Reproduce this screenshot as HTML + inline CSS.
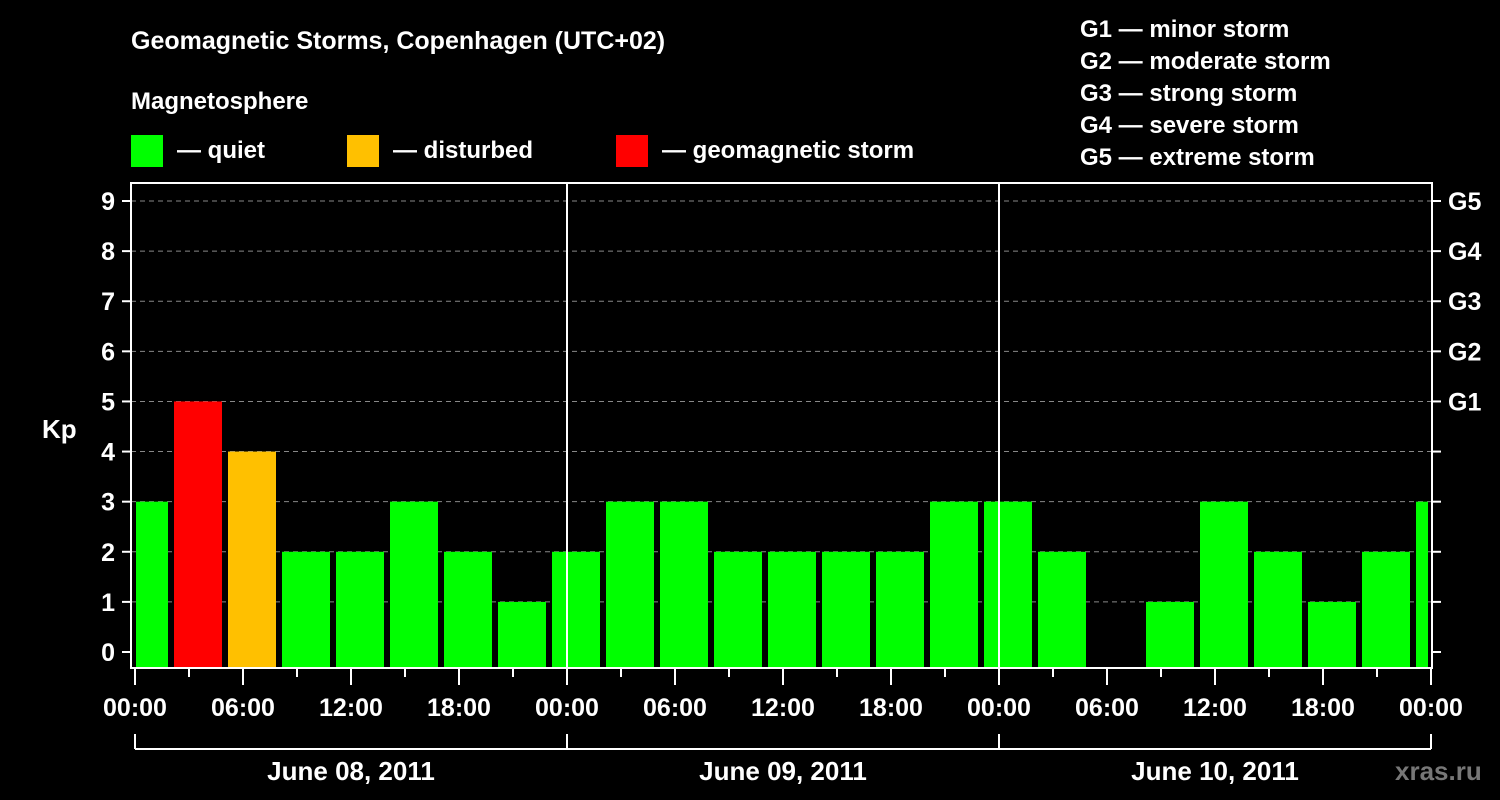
<!DOCTYPE html>
<html><head><meta charset="utf-8"><style>
html,body{margin:0;padding:0;background:#000;}
svg{display:block;font-family:"Liberation Sans",sans-serif;font-weight:bold;}
</style></head><body>
<svg id="chart" width="1500" height="800" viewBox="0 0 1500 800">
<rect x="0" y="0" width="1500" height="800" fill="#000"/>
<text x="131" y="49" fill="#fff" font-size="25">Geomagnetic Storms, Copenhagen (UTC+02)</text>
<text x="131" y="109" fill="#fff" font-size="24">Magnetosphere</text>
<g><rect x="131" y="135" width="32" height="32" fill="#00ff00"/><text x="177" y="158" fill="#fff" font-size="24">— quiet</text></g>
<g><rect x="347" y="135" width="32" height="32" fill="#ffc000"/><text x="393" y="158" fill="#fff" font-size="24">— disturbed</text></g>
<g><rect x="616" y="135" width="32" height="32" fill="#ff0000"/><text x="662" y="158" fill="#fff" font-size="24">— geomagnetic storm</text></g>
<g fill="#fff" font-size="24">
<text x="1080" y="37">G1 — minor storm</text>
<text x="1080" y="69">G2 — moderate storm</text>
<text x="1080" y="101">G3 — strong storm</text>
<text x="1080" y="133">G4 — severe storm</text>
<text x="1080" y="165">G5 — extreme storm</text>
</g>
<text x="42" y="438" fill="#fff" font-size="26">Kp</text>
<text x="1395" y="780" fill="#777" font-size="26">xras.ru</text>
<g id="grid"></g><g id="bars"></g><g id="axes"></g>
</svg>
<script>
const kpValues=[3,5,4,2,2,3,2,1,2,3,3,2,2,2,2,3,3,2,0,1,3,2,1,2,3];
const yTicks=[0,1,2,3,4,5,6,7,8,9];
const gLabels=["G1","G2","G3","G4","G5"];
const dayLabels=["June 08, 2011","June 09, 2011","June 10, 2011"];
const hourLabels=["00:00","06:00","12:00","18:00"];
const NS="http://www.w3.org/2000/svg";
const X0=135,PXH=18,Y0=652,PXU=50.11,L=131,R=1432,T=183,B=668;
const xs=h=>X0+h*PXH, ys=v=>Y0-v*PXU;
function mk(p,tag,a){const e=document.createElementNS(NS,tag);for(const k in a)e.setAttribute(k,a[k]);p.appendChild(e);return e;}
const grid=document.getElementById('grid'),bars=document.getElementById('bars'),axes=document.getElementById('axes');
yTicks.forEach(v=>{if(v>0){const l=mk(grid,'line',{x1:L,x2:R,y1:ys(v),y2:ys(v),stroke:'#888','stroke-width':1,'stroke-dasharray':'5,4'});

}
const t=mk(axes,'line',{x1:L-9,x2:L,y1:ys(v),y2:ys(v),stroke:'#fff','stroke-width':2});


const t2=mk(axes,'line',{x1:R,x2:R+9,y1:ys(v),y2:ys(v),stroke:'#fff','stroke-width':2});


const tx=mk(axes,'text',{x:L-16,y:ys(v)+9,fill:'#fff','font-size':25,'text-anchor':'end'});tx.textContent=v;

});
gLabels.forEach((g,i)=>{const tx=mk(axes,'text',{x:R+16,y:ys(i+5)+9,fill:'#fff','font-size':25});tx.textContent=g;

});
kpValues.forEach((v,i)=>{if(v<=0)return;const c=xs(0.5+3*i);let x1=Math.max(c-24,L+5),x2=Math.min(c+24,R-4);
const col=v>=5?'#ff0000':(v>=4?'#ffc000':'#00ff00');
const r=mk(bars,'rect',{x:x1,y:ys(v),width:x2-x1,height:B-1-ys(v),fill:col});

});
for(let d=1;d<3;d++){const l=mk(axes,'line',{x1:xs(24*d),x2:xs(24*d),y1:T,y2:B,stroke:'#fff','stroke-width':2});

}
const fr=mk(axes,'rect',{x:L,y:T,width:R-L,height:B-T,fill:'none',stroke:'#fff','stroke-width':2});


for(let h=0;h<=72;h+=3){const maj=h%6===0;const t=mk(axes,'line',{x1:xs(h),x2:xs(h),y1:B,y2:B+(maj?17:9),stroke:'#fff','stroke-width':2});


if(maj){const tx=mk(axes,'text',{x:xs(h),y:716,fill:'#fff','font-size':25,'text-anchor':'middle'});tx.textContent=hourLabels[(h/6)%4];

}}
const br=mk(axes,'line',{x1:xs(0),x2:xs(72),y1:749,y2:749,stroke:'#fff','stroke-width':2});


for(let d=0;d<=3;d++){const l=mk(axes,'line',{x1:xs(24*d),x2:xs(24*d),y1:734,y2:749,stroke:'#fff','stroke-width':2});

}
dayLabels.forEach((s,d)=>{const tx=mk(axes,'text',{x:xs(24*d+12),y:780,fill:'#fff','font-size':26,'text-anchor':'middle'});tx.textContent=s;

});
</script>
</body></html>
